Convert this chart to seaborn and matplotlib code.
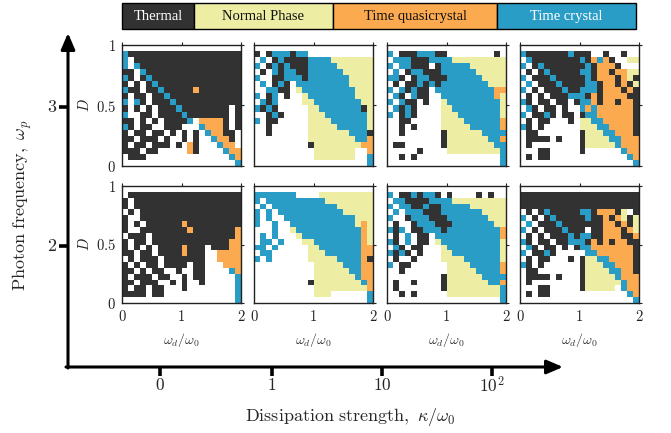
import matplotlib
matplotlib.use("Agg")
import matplotlib.pyplot as plt
from matplotlib.colors import ListedColormap
from matplotlib.patches import Rectangle
import numpy as np
import seaborn as sns

sns.set_style("white")
plt.rcParams["mathtext.fontset"] = "cm"
plt.rcParams["font.family"] = ["DejaVu Serif"]

W, H = 671, 433

# ── Phases / labels ───────────────────────────────────────
phases = ["Thermal", "Normal Phase", "Time quasicrystal", "Time crystal"]
phase_colors = ["#323232", "#EDEDA3", "#FCAA4F", "#2A9DC6"]
phase_text_colors = ["white", "#111111", "#111111", "white"]
phase_codes = {".": 0, "k": 1, "y": 2, "o": 3, "b": 4}

kappa_labels = ["$0$", "$1$", "$10$", "$10^2$"]
wp_labels = ["$3$", "$2$"]
wd_ticklabels = ["$0$", "$1$", "$2$"]
d_ticklabels = ["$0$", "$0.5$", "$1$"]

# ── Phase maps ────────────────────────────────────────────
# rows go from D=1 (top) to D=0 (bottom), 20 cells across omega_d/omega_0 in [0, 2]
# run-length coded: "3k" = three cells of thermal phase, "." = no data
wp3_k0 = [
    "20.",
    "b 19k",
    "b . 18k",
    "b . b 17k",
    "2k . b 16k",
    "b k . k b 15k",
    "k . k . k b 14k",
    "b 2k . 2k b 5k o 7k",
    "k . 2k . 2k b 12k",
    "b . b k . 3k b 11k",
    "k . k . k . 3k b 8k . k",
    "b 2. 2k . 4k b 7k . k",
    "2k . k . k . 4k b . 4o k . k",
    "b k . 2k 2. 3k 3. b 3o k . k",
    "k . 2k . 2k . k . k . k . b 2o 2k .",
    "2k . 3k . k 2. k . k 2. b 2o k .",
    "k . 2k . 3k . k . o k 3. b 2o .",
    "3k . 2k 5. o k 4. b 2o",
    ". 3k 14. b o",
    "19. b",
]

wp3_k1 = [
    "20.",
    "k . k 3b k 2b 11.",
    ". b . k b 4k 4b 7y",
    "b . k b k b 3k 5b 6y",
    ". k . b k 2b 2k 6b 5y",
    "b 2. 2k 3b k 7b 4y",
    ". b . k b k . 9b 4y",
    "2. 2b 2k . y 9b 3y",
    "b . k b . k 2. y 8b 3y",
    ". b k b 4. 2y 8b 2y",
    "b k b k 5. 2y 7b k y",
    "2. k b k 4. 3y 7b y",
    "b . 2k 5. 4y 6b y",
    "2. k 6. 5y 5b y",
    "2. k 6. 7y 3b k",
    "9. 8y 2b o",
    "9. k 8y 2o",
    "10. 7y 2. o",
    "10. 7y 2. b",
    "19. b",
]

wp3_k10 = [
    "20.",
    "b . 3k 3b 2k 8. k .",
    ". 3b 3k 4b 9y",
    "b . 2b 3k . k 5b 6y",
    ". b . k 2b 3k 6b 5y",
    "2b k . k 2b 3k 6b 4y",
    ". k . 2k b k b k 8b 3y",
    "b . b k b 2k . 10b 2o",
    ". b k . b 2k 2. 9b o y",
    "b . b 2k . k 2. y 9b y",
    ". b k b k 4. 2y 8b y",
    "b . k b k 4. 3y 7b y",
    "2. 2k 5. 4y 6b o",
    "2. k . k 4. 5y 5b o",
    "2. k 6. k 6y 4b",
    "9. k 7y 2b o",
    ". 2k 6. k 8y 2b",
    "5. k 4. 9y b",
    "2. k . k 14. b",
    "19. b",
]

wp3_k100 = [
    "20.",
    "b 7k b 3k 2. k 2. k 2.",
    ". b 8k b k o b o k 2. 2y",
    "b . k b 7k b k 3o k 3.",
    ". k . k b 5k 2b k 2o k 2o 2y",
    "b . 3k b 5k b k 3o k o y k",
    ". b . 3k b 4k 2b k 2o k o k y",
    "b . k . 3k b 2k 3b k 3o k o k",
    ". k . k . 3k 3b k o k 4o 2k",
    "b k . 2k . 2k . k 2b o k 2o k 2o k",
    ". b k . 2k . k 2. b o b 6o k",
    "b . 2k b k . 2k . k 2b 6o k",
    ". k . 2k 3. k . 2y 2b 5o k",
    "b k . k 6. 3y 2b 4o k",
    ". 2k 7. k 3y 2b 3o k",
    ". 4k . k 3. k 4y 2b 3o",
    ". k 8. k 5y b 3o",
    "3. 2k 5. k 6. b 2o",
    ". k . 2k 13. b o",
    "19. b",
]

wp2_k0 = [
    "20.",
    ". 19k",
    "k . 18k",
    "k . 18k",
    ". k . 17k",
    "k 2. 17k",
    "k . k . 6k o 9k",
    "k 2. 8k o 7k o",
    ". 3k . 14k o",
    "k . 2k . 13k 2o",
    "k . k . k . 4k o 3k . 3k 2o",
    "2k . 2k . 4k o 3k 2. 4o",
    ". k . 3k . 7k 2. 4o",
    "k . k . 2k . 4k . 2k 3. 3o",
    "2k . k . 2k 2. k 2. 2k 4. b o",
    "k . 3k . 2k 2. k . 2k 5. b",
    "2k . 3k 2. k . k 2. k 5. b",
    "k . 2k . 2k 3. k 8. b",
    "4k . 2k 12. b",
    "19. b",
]

wp2_k1 = [
    "20.",
    "7b 4. 9y",
    "b . 10b 8y",
    ". b . 11b 6y",
    "b . b . 11b 5y",
    "b . b 2. 12b 3y",
    "b 2. b 2. 11b y o y",
    "3. b 2. y 11b o y",
    ". b . b 3. y 10b o y",
    ". 2b . b 3. 2y 8b o y",
    "2b . b 5. 2y 7b 2o",
    ". 2b 6. 3y 6b 2o",
    "b . b 6. 5y 4b o k",
    "10. 5y 3b 2o",
    "10. 6y 2b 2o",
    "10. 7y b 2o",
    "9. k 8y b o",
    "10. 9y o",
    "10. 3y 6. b",
    "19. b",
]

wp2_k10 = [
    "20.",
    "b . 2k b k 2b k . k 4. k . k 2.",
    ". 2b 4k 4b 9y",
    "b . 2b 2k b 2k 5b 6y",
    ". b . 3b 3k 7b 4y",
    "b 2. k 3b 3k 7b 3y",
    ". k 2. k 3b 3k 7b 2y",
    "b k b . 2k 3b k 9b o",
    ". k . b . 2k . 11b o",
    "b k . b . 2k . y 10b y",
    ". b k . 2k 3. y 9b y",
    "b k b k . k 3. 2y 8b y",
    ". k 2. k 4. 4y 6b y",
    "b . 2k 6. 4y 5b o",
    "2. k 7. 5y 4b o",
    "9. k 6y 4b",
    ". k 2. k 4. k 7y 2b o",
    ". k 7. k 9y b",
    "2. k . k 5. 9y b",
    "19. b",
]

wp2_k100 = [
    "20.",
    "20k",
    "20k",
    "20k",
    ". k . k b 5k 2b k 3o k y . k",
    "b . k . k b 5k b 2k o k o y k y",
    ". b . 3k b 7k 2o k o k y",
    "b . k . 3k b 3k . 2k 3o k o y",
    ". k . k . 3k b k 2b 2k 3o 2k o",
    "b k . 2k . 2k 3b k o k o k 2o 2k",
    ". b k . 2k . k . k 2b 7o k",
    "b . 2k b k 5. 2b 6o k",
    ". k . 2k 3. k . k 2y 2b 4o k",
    "b k . k 6. k 3y 2b 3o k",
    ". 2k 7. k 4y 2b 2o k",
    ". 4k . k 3. k 5y b 3o",
    ". k 8. k 6y b 2o",
    "3. 2k 5. k 5y . b 2o",
    ". k . 2k 13. b o",
    "19. b",
]

panels = [[wp3_k0, wp3_k1, wp3_k10, wp3_k100],
          [wp2_k0, wp2_k1, wp2_k10, wp2_k100]]

NCOL = 20


# ── Helpers ───────────────────────────────────────────────
def decode(rows):
    """Turn the run-length rows into an integer grid"""
    grid = []
    for row in rows:
        cells = []
        for tok in row.split():
            n = int(tok[:-1]) if len(tok) > 1 else 1
            cells += [phase_codes[tok[-1]]] * n
        cells = (cells + [0] * NCOL)[:NCOL]
        grid.append(cells)
    return np.array(grid)


def px_axes(fig, x0, y0, x1, y1, **kw):
    return fig.add_axes([x0 / W, 1 - y1 / H, (x1 - x0) / W, (y1 - y0) / H], **kw)


phase_cmap = ListedColormap(["white"] + phase_colors)

# ── Figure ────────────────────────────────────────────────
fig = plt.figure(figsize=(W / 100, H / 100), dpi=100)

# background layer in pixel coordinates: big axes + legend bar
bg = px_axes(fig, 0, 0, W, H)
bg.set_xlim(0, W)
bg.set_ylim(H, 0)
bg.axis("off")

arrow = dict(arrowstyle="-|>,head_length=0.7,head_width=0.3", lw=2.2,
             color="black", shrinkA=0, shrinkB=0, mutation_scale=14)
bg.annotate("", xy=(68, 33), xytext=(68, 368), arrowprops=arrow)
bg.annotate("", xy=(563, 367), xytext=(66, 367), arrowprops=arrow)

for y, lab in zip([107, 246], wp_labels):
    bg.plot([59, 68], [y, y], color="black", lw=2.6, solid_capstyle="butt")
    bg.text(52, y, lab, ha="center", va="center", fontsize=13)

for x, lab in zip([160, 272, 382, 492], kappa_labels):
    bg.plot([x, x], [367, 376], color="black", lw=2.6, solid_capstyle="butt")
    bg.text(x, 386, lab, ha="center", va="center", fontsize=12.5)

bg.text(22, 205, r"$\mathrm{Photon\ frequency,}\ \omega_p$", rotation=90,
        ha="center", va="center", fontsize=13)
bg.text(350, 417, r"$\mathrm{Dissipation\ strength,}\ \kappa/\omega_0$",
        ha="center", va="center", fontsize=13)

# legend bar
edges = [122, 194, 333, 497, 636]
for i, name in enumerate(phases):
    bg.add_patch(Rectangle((edges[i], 3), edges[i + 1] - edges[i], 26,
                           facecolor=phase_colors[i], edgecolor="black", lw=1))
    bg.text((edges[i] + edges[i + 1]) / 2, 16.5, name, ha="center", va="center",
            color=phase_text_colors[i], fontsize=10.5, family=["Liberation Serif"])

# ── Phase diagrams ────────────────────────────────────────
panel_left = [122, 254, 387, 520]
panel_w = 119
row_top = [45, 186]
row_bot = [166, 303]

for r in range(2):
    for c in range(4):
        ax = px_axes(fig, panel_left[c], row_top[r], panel_left[c] + panel_w, row_bot[r])
        grid = decode(panels[r][c])
        sns.heatmap(grid, ax=ax, cmap=phase_cmap, vmin=-0.5, vmax=4.5, cbar=False,
                    xticklabels=False, yticklabels=False, linewidths=0)
        for s in ax.spines.values():
            s.set_visible(True)
            s.set_linewidth(1.0)
            s.set_color("#222222")
        ax.set_xticks([0, NCOL / 2, NCOL])
        ax.set_yticks([grid.shape[0], grid.shape[0] / 2, 0])
        ax.tick_params(direction="out", length=2.5, width=0.8, top=True, right=True,
                       colors="#222222", labelsize=10.5, pad=2)
        if r == 1:
            ax.set_xticklabels(wd_ticklabels)
            ax.set_xlabel(r"$\omega_d/\omega_0$", fontsize=10, color="#333333", labelpad=5)
        else:
            ax.set_xticklabels([])
        if c == 0:
            ax.set_yticklabels(d_ticklabels)
            ax.set_ylabel("$D$", fontsize=10.5, labelpad=3)
        else:
            ax.set_yticklabels([])

fig.savefig("out.png", dpi=100)
